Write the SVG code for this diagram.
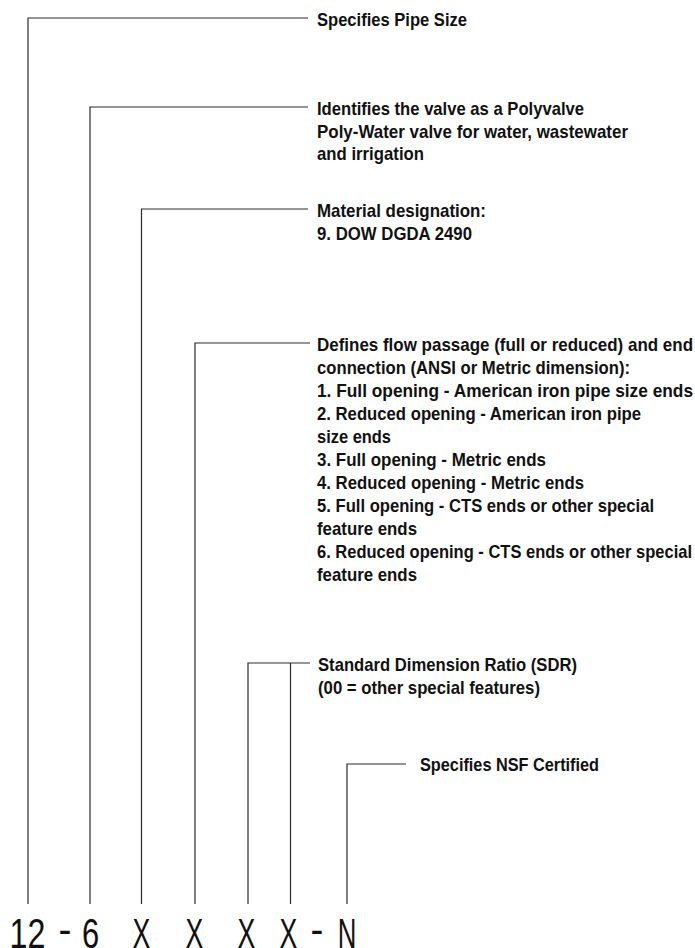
<svg xmlns="http://www.w3.org/2000/svg" width="695" height="948" viewBox="0 0 695 948">
<style>
.c{fill:none;stroke:#2a2a2a;stroke-width:1.2}
.t{font-family:"Liberation Sans",Arial,sans-serif;font-weight:bold;font-size:19px;fill:#111}
.b{font-family:"Liberation Sans",Arial,sans-serif;font-size:43px;fill:#111;text-anchor:middle}
</style>
<rect width="695" height="948" fill="#fff"/>
<g id="connectors">
<polyline class="c" points="28,904 28,18 308,18"/>
<polyline class="c" points="90,904 90,107 308,107"/>
<polyline class="c" points="141.5,904 141.5,209 308,209"/>
<polyline class="c" points="195,904 195,343 310,343"/>
<polyline class="c" points="248,904 248,663 310,663"/>
<line class="c" x1="290.5" y1="904" x2="290.5" y2="663"/>
<polyline class="c" points="347,904 347,764 406,764"/>
</g>
<g id="n1"><text class="t" x="317" y="26" textLength="150" lengthAdjust="spacingAndGlyphs">Specifies Pipe Size</text></g>
<g id="n2">
<text class="t" x="317" y="115" textLength="267" lengthAdjust="spacingAndGlyphs">Identifies the valve as a Polyvalve</text>
<text class="t" x="317" y="137.5" textLength="311" lengthAdjust="spacingAndGlyphs">Poly-Water valve for water, wastewater</text>
<text class="t" x="317" y="160" textLength="107" lengthAdjust="spacingAndGlyphs">and irrigation</text>
</g>
<g id="n3">
<text class="t" x="317" y="217" textLength="169" lengthAdjust="spacingAndGlyphs">Material designation:</text>
<text class="t" x="317" y="240" textLength="155" lengthAdjust="spacingAndGlyphs">9. DOW DGDA 2490</text>
</g>
<g id="n4">
<text class="t" x="317" y="351" textLength="376" lengthAdjust="spacingAndGlyphs">Defines flow passage (full or reduced) and end</text>
<text class="t" x="317" y="374" textLength="313" lengthAdjust="spacingAndGlyphs">connection (ANSI or Metric dimension):</text>
<text class="t" x="317" y="397" textLength="376" lengthAdjust="spacingAndGlyphs">1. Full opening - American iron pipe size ends</text>
<text class="t" x="317" y="420" textLength="324" lengthAdjust="spacingAndGlyphs">2. Reduced opening - American iron pipe</text>
<text class="t" x="317" y="443" textLength="74" lengthAdjust="spacingAndGlyphs">size ends</text>
<text class="t" x="317" y="466" textLength="229" lengthAdjust="spacingAndGlyphs">3. Full opening - Metric ends</text>
<text class="t" x="317" y="489" textLength="267" lengthAdjust="spacingAndGlyphs">4. Reduced opening - Metric ends</text>
<text class="t" x="317" y="512" textLength="337" lengthAdjust="spacingAndGlyphs">5. Full opening - CTS ends or other special</text>
<text class="t" x="317" y="535" textLength="100" lengthAdjust="spacingAndGlyphs">feature ends</text>
<text class="t" x="317" y="558" textLength="375" lengthAdjust="spacingAndGlyphs">6. Reduced opening - CTS ends or other special</text>
<text class="t" x="317" y="581" textLength="100" lengthAdjust="spacingAndGlyphs">feature ends</text>
</g>
<g id="n5">
<text class="t" x="318" y="671" textLength="259" lengthAdjust="spacingAndGlyphs">Standard Dimension Ratio (SDR)</text>
<text class="t" x="318" y="694" textLength="222" lengthAdjust="spacingAndGlyphs">(00 = other special features)</text>
</g>
<g id="n6"><text class="t" x="420" y="771" textLength="179" lengthAdjust="spacingAndGlyphs">Specifies NSF Certified</text></g>
<g id="code">
<text class="b" transform="translate(27.5,948) scale(0.75,1)">12</text>
<text class="b" transform="translate(65,944) scale(0.9,1)">-</text>
<text class="b" transform="translate(90.5,948) scale(0.72,1)">6</text>
<text class="b" transform="translate(141.5,948) scale(0.62,1)">X</text>
<text class="b" transform="translate(194.5,948) scale(0.62,1)">X</text>
<text class="b" transform="translate(246.5,948) scale(0.62,1)">X</text>
<text class="b" transform="translate(288.5,948) scale(0.62,1)">X</text>
<text class="b" transform="translate(317,944) scale(0.9,1)">-</text>
<text class="b" transform="translate(347,948) scale(0.6,1)">N</text>
</g>
</svg>
